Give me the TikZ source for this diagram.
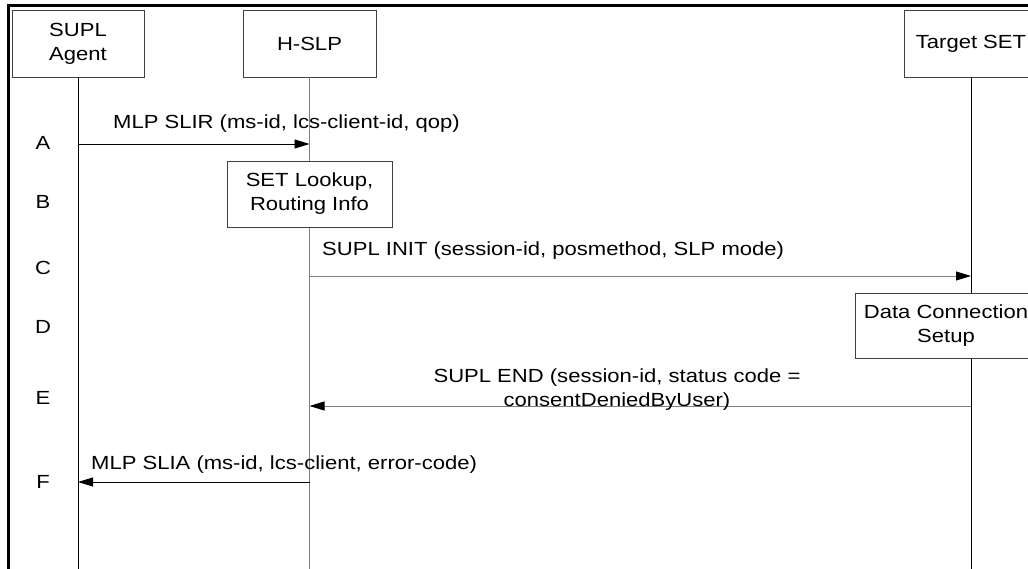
\documentclass[tikz,border=0pt]{standalone}
\usepackage{fontspec}
\setmainfont[FakeStretch=1.16]{Liberation Sans}
\usetikzlibrary{arrows.meta}

\begin{document}
\begin{tikzpicture}[x=1pt, y=-1pt,
    every node/.style={font=\fontsize{19}{24}\selectfont},
    actor/.style={draw=black!75, fill=white, line width=0.9pt, align=center, minimum height=67pt},
    msg/.style={-{Triangle[length=15pt,width=9pt,color=black]}, line width=0.9pt},
    life/.style={line width=0.9pt},
    txt/.style={inner sep=0pt, align=center}]
    \useasboundingbox (0,0) rectangle (1028,569);

    % Frame
    \draw[line width=3pt] (8,569) -- (8,5.5) -- (1028,5.5);

    % Actors
    \node[actor, minimum width=132pt] (agent) at (78,43.5) {SUPL\\Agent};
    \node[actor, minimum width=133pt] (hslp) at (309.5,43.5) {H-SLP};
    \node[actor, minimum width=133pt] (target) at (971,43.5) {Target SET};
    \coordinate (bottom) at (0,569);

    % Lifelines
    \draw[life] (agent.south) -- (agent.south |- bottom);
    \draw[life, gray] (hslp.south) -- (hslp.south |- bottom);
    \draw[life] (target.south) -- (target.south |- bottom);

    % Rows
    \coordinate (rowA) at (0,144);
    \coordinate (rowC) at (0,276);
    \coordinate (rowE) at (0,406);
    \coordinate (rowF) at (0,482);
    \foreach \r/\y in {A/143, B/202, C/268, D/327, E/398, F/482}
        \node (lab\r) at (43,\y) {\r};

    % Step A
    \draw[msg] (agent |- rowA) -- (hslp |- rowA);
    \node[txt, anchor=west] (txtA) at (113,124) {MLP SLIR (ms-id, lcs-client-id, qop)};

    % Step B
    \node[actor, minimum width=165pt, minimum height=66pt] (lookup) at (309.5,194) {SET Lookup,\\Routing Info};

    % Step C
    \draw[msg, gray] (hslp |- rowC) -- (target |- rowC);
    \node[txt, anchor=west] (txtC) at (322,251) {SUPL INIT (session-id, posmethod, SLP mode)};

    % Step D
    \node[actor, minimum width=182pt, minimum height=65pt] (dcs) at (946,325.5) {Data Connection\\Setup};

    % Step E
    \draw[msg, gray] (target |- rowE) -- (hslp |- rowE);
    \node[txt] (txtE) at (617,390) {SUPL END (session-id, status code =\\consentDeniedByUser)};

    % Step F
    \draw[msg] (hslp |- rowF) -- (agent |- rowF);
    \node[txt, anchor=west] (txtF) at (91,465) {MLP SLIA (ms-id, lcs-client, error-code)};
\end{tikzpicture}
\end{document}
